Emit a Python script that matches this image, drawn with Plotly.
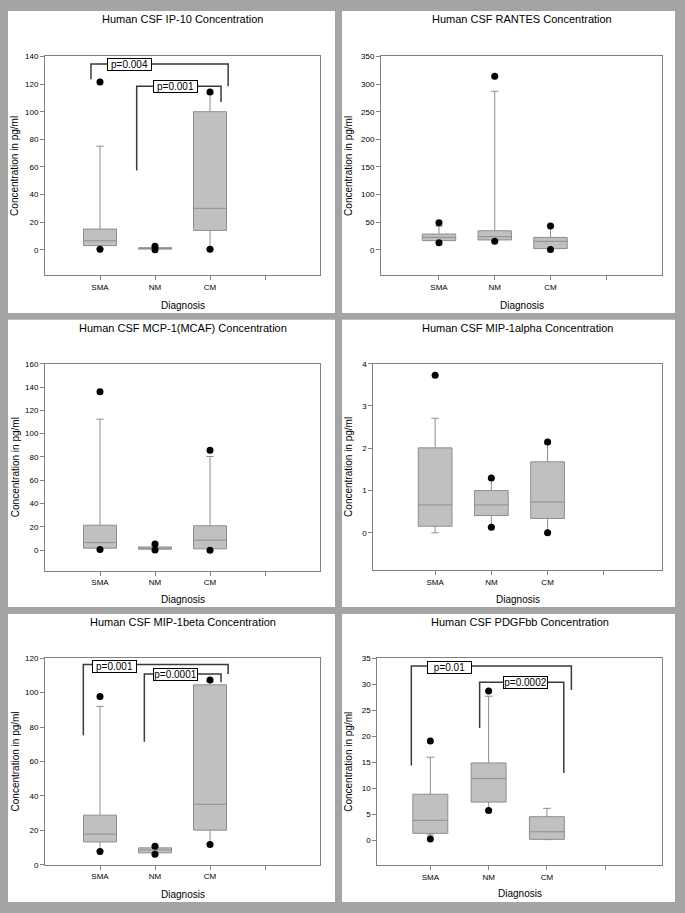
import plotly.graph_objects as go

# ---------------- data ----------------
categories = ["SMA", "NM", "CM"]
cat_pos = [1, 2, 3]
tick_vals = [1, 2, 3, 4]
tick_text = ["SMA", "NM", "CM", ""]

titles = [
    "Human CSF IP-10 Concentration",
    "Human CSF RANTES Concentration",
    "Human CSF MCP-1(MCAF) Concentration",
    "Human CSF MIP-1alpha Concentration",
    "Human CSF MIP-1beta Concentration",
    "Human CSF PDGFbb Concentration",
]

ip10_q1 = [3, 0.5, 14]
ip10_med = [6.5, 1, 30]
ip10_q3 = [15, 1.5, 100]
ip10_lo = [0.8, 0.3, 0.6]
ip10_hi = [75, 2, 113]
ip10_out_lo = [0.3, 0, 0.3]
ip10_out_hi = [121.5, 2.5, 114.3]

rantes_q1 = [16.7, 18, 2.3]
rantes_med = [22.6, 23.9, 15.5]
rantes_q3 = [28.7, 34.6, 22.6]
rantes_lo = [14.5, 16.5, 1]
rantes_hi = [43, 287, 42]
rantes_out_lo = [13, 15.5, 0.5]
rantes_out_hi = [49, 314, 43]

mcp1_q1 = [1.8, 0.9, 1.2]
mcp1_med = [6.5, 1.8, 8.6]
mcp1_q3 = [21.5, 2.8, 21]
mcp1_lo = [1, 0.5, 0.5]
mcp1_hi = [112.4, 4, 80.4]
mcp1_out_lo = [0.6, 0.3, 0.1]
mcp1_out_hi = [135.9, 5.4, 85.8]

mip1a_q1 = [0.156, 0.41, 0.34]
mip1a_med = [0.66, 0.66, 0.73]
mip1a_q3 = [2.01, 1.0, 1.68]
mip1a_lo = [0.0, 0.15, 0.0]
mip1a_hi = [2.71, 1.29, 2.11]
mip1a_out_lo = [None, 0.13, 0.0]
mip1a_out_hi = [3.73, 1.30, 2.15]

mip1b_q1 = [13.2, 6.9, 20.1]
mip1b_med = [17.8, 8.6, 35.1]
mip1b_q3 = [28.8, 9.8, 104.5]
mip1b_lo = [7.9, 6.3, 12.1]
mip1b_hi = [92, 10.5, 106.5]
mip1b_out_lo = [7.7, 6.1, 11.7]
mip1b_out_hi = [97.8, 10.7, 107.3]

pdgf_q1 = [1.4, 7.4, 0.25]
pdgf_med = [3.9, 11.9, 1.7]
pdgf_q3 = [8.9, 14.9, 4.6]
pdgf_lo = [1.1, 5.9, 0.2]
pdgf_hi = [16, 27.7, 6.2]
pdgf_out_lo = [0.3, 5.8, None]
pdgf_out_hi = [19.1, 28.7, None]

y_maxes = [140, 350, 160, 4, 120, 35]
y_steps = [20, 50, 20, 1, 20, 5]

# significance brackets: (label, x_left, y_left_bottom, y_top, x_right, y_right_bottom, label_x, label_y)
ip10_brackets = [
    ("p=0.004", 0.836, 123.5, 134.5, 3.33, 118.5, 1.54, 134.3),
    ("p=0.001", 1.667, 57.4, 118.5, 3.2, 107, 2.37, 118.5),
]
mip1b_brackets = [
    ("p=0.001", 0.697, 75.3, 116.3, 3.33, 110.8, 1.255, 115.2),
    ("p=0.0001", 1.806, 71.5, 110.8, 3.2, 106, 2.37, 110.6),
]
pdgf_brackets = [
    ("p=0.01", 0.674, 14.4, 33.5, 3.42, 28.9, 1.33, 33.3),
    ("p=0.0002", 1.846, 21.6, 30.4, 3.29, 13.0, 2.63, 30.3),
]

panels = [
    (ip10_q1, ip10_med, ip10_q3, ip10_lo, ip10_hi, ip10_out_lo, ip10_out_hi, ip10_brackets),
    (rantes_q1, rantes_med, rantes_q3, rantes_lo, rantes_hi, rantes_out_lo, rantes_out_hi, []),
    (mcp1_q1, mcp1_med, mcp1_q3, mcp1_lo, mcp1_hi, mcp1_out_lo, mcp1_out_hi, []),
    (mip1a_q1, mip1a_med, mip1a_q3, mip1a_lo, mip1a_hi, mip1a_out_lo, mip1a_out_hi, []),
    (mip1b_q1, mip1b_med, mip1b_q3, mip1b_lo, mip1b_hi, mip1b_out_lo, mip1b_out_hi, mip1b_brackets),
    (pdgf_q1, pdgf_med, pdgf_q3, pdgf_lo, pdgf_hi, pdgf_out_lo, pdgf_out_hi, pdgf_brackets),
]

# ---------------- layout geometry (pixels) ----------------
W, H = 685, 913
def pxx(x):
    return x / W
def pxy(y):
    return 1 - y / H

# plot frames: left, right, top, bottom
frames = [
    (45, 320, 53, 274),
    (381, 662, 53, 274),
    (45, 320, 363.3, 572.3),
    (373.3, 661.7, 363.3, 571.7),
    (45, 320, 660.7, 869.3),
    (377.3, 662.3, 660.7, 870),
]
y_lows = [-18.5, -46, -17.5, -0.88, 0, -4.75]
x_ranges = [[0, 5], [-0.04, 5], [0, 5], [-0.1, 5.03], [0, 5], [0.09, 4.98]]
title_y = [15, 15, 327, 327, 624, 624]
ytitle_x = [15, 349, 15, 349, 15, 349]
xtitle_y = [305, 305, 601, 601, 899, 898]

panel_x = [(8, 335), (342, 675)]
panel_y = [(7, 312), (319, 609), (616, 907)]

FONT = "Liberation Sans, Arial, sans-serif"
AXIS_COLOR = "#808080"
BOX_FILL = "#c0c0c0"
BOX_LINE = "#8e8e8e"
BRACKET = "#3a3a3a"

fig = go.Figure()
shapes = []
annotations = []

for r, (y0, y1) in enumerate(panel_y):
    for c, (x0, x1) in enumerate(panel_x):
        shapes.append(dict(type="rect", xref="paper", yref="paper",
                           x0=pxx(x0), x1=pxx(x1), y0=pxy(y1), y1=pxy(y0),
                           fillcolor="white", line=dict(width=0), layer="below"))

layout_axes = {}
for i, (q1, med, q3, lo, hi, olo, ohi, brackets) in enumerate(panels):
    n = i + 1
    xa = "x" if n == 1 else f"x{n}"
    ya = "y" if n == 1 else f"y{n}"
    L, R, T, B = frames[i]

    fig.add_trace(go.Box(
        x=cat_pos, q1=q1, median=med, q3=q3, lowerfence=lo, upperfence=hi,
        width=0.6, whiskerwidth=0.22, boxpoints=False,
        fillcolor=BOX_FILL, line=dict(color=BOX_LINE, width=1),
        xaxis=xa, yaxis=ya, showlegend=False, hoverinfo="skip",
    ))

    ox, oy = [], []
    for k in range(3):
        for v in (olo[k], ohi[k]):
            if v is not None:
                ox.append(cat_pos[k])
                oy.append(v)
    fig.add_trace(go.Scatter(
        x=ox, y=oy, mode="markers",
        marker=dict(color="black", size=7),
        xaxis=xa, yaxis=ya, showlegend=False, hoverinfo="skip",
    ))

    for (lab, xl, yl, yt, xr, yr, lx, ly) in brackets:
        fig.add_trace(go.Scatter(
            x=[xl, xl, xr, xr], y=[yl, yt, yt, yr], mode="lines",
            line=dict(color=BRACKET, width=1.5),
            xaxis=xa, yaxis=ya, showlegend=False, hoverinfo="skip",
        ))
        annotations.append(dict(
            x=lx, y=ly, xref=xa, yref=ya, text=lab, showarrow=False,
            font=dict(family=FONT, size=10, color="black"),
            bgcolor="white", bordercolor="black", borderwidth=1, borderpad=0,
            width=43, height=11, xanchor="center", yanchor="middle",
        ))

    ymax = y_maxes[i]
    step = y_steps[i]
    yticks = []
    v = 0
    while v <= ymax + 1e-9:
        yticks.append(v)
        v += step

    key_x = "xaxis" if n == 1 else f"xaxis{n}"
    key_y = "yaxis" if n == 1 else f"yaxis{n}"
    layout_axes[key_x] = dict(
        domain=[pxx(L), pxx(R)], anchor=ya, range=x_ranges[i],
        tickvals=tick_vals, ticktext=tick_text, ticks="outside", ticklen=4,
        tickcolor=AXIS_COLOR, showline=True, linecolor=AXIS_COLOR, linewidth=1,
        mirror=True, showgrid=False, zeroline=False,
        tickfont=dict(family=FONT, size=8, color="black"), fixedrange=True,
    )
    layout_axes[key_y] = dict(
        domain=[pxy(B), pxy(T)], anchor=xa, range=[y_lows[i], ymax],
        tickvals=yticks, ticks="outside", ticklen=4,
        tickcolor=AXIS_COLOR, showline=True, linecolor=AXIS_COLOR, linewidth=1,
        mirror=True, showgrid=False, zeroline=False,
        tickfont=dict(family=FONT, size=8, color="black"), fixedrange=True,
    )

    cx = (L + R) / 2
    cy = (T + B) / 2
    annotations.append(dict(
        x=pxx(cx), y=pxy(title_y[i]), xref="paper", yref="paper",
        text=titles[i], showarrow=False, xanchor="center", yanchor="middle",
        font=dict(family=FONT, size=11, color="black"),
    ))
    annotations.append(dict(
        x=pxx(ytitle_x[i]), y=pxy(cy), xref="paper", yref="paper",
        text="Concentration in pg/ml", showarrow=False, textangle=-90,
        xanchor="center", yanchor="middle",
        font=dict(family=FONT, size=10, color="black"),
    ))
    annotations.append(dict(
        x=pxx(cx), y=pxy(xtitle_y[i]), xref="paper", yref="paper",
        text="Diagnosis", showarrow=False, xanchor="center", yanchor="middle",
        font=dict(family=FONT, size=10, color="black"),
    ))

fig.update_layout(
    width=W, height=H, autosize=False,
    margin=dict(l=0, r=0, t=0, b=0, pad=0),
    paper_bgcolor="#a4a4a4", plot_bgcolor="rgba(0,0,0,0)",
    shapes=shapes, annotations=annotations,
    font=dict(family=FONT, color="black"),
    showlegend=False,
    **layout_axes,
)

fig.write_html("out.html", config={"displayModeBar": False})

with open("out.html", "r", encoding="utf-8") as f:
    html = f.read()
html = html.replace("<head>", "<head><style>html,body{margin:0;padding:0;overflow:hidden;}</style>", 1)
with open("out.html", "w", encoding="utf-8") as f:
    f.write(html)
